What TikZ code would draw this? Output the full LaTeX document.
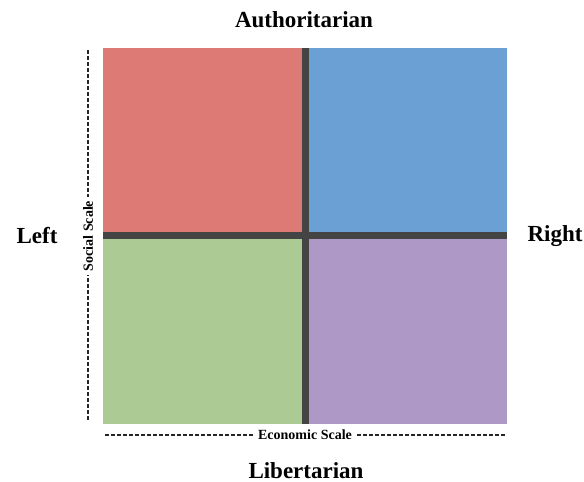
\documentclass[tikz,border=0pt]{standalone}
\usepackage{fontspec}
\setmainfont{Liberation Serif}
\usepackage{xcolor}
\definecolor{authleft}{RGB}{222,122,117}
\definecolor{authright}{RGB}{106,160,211}
\definecolor{libleft}{RGB}{171,202,148}
\definecolor{libright}{RGB}{174,152,197}
\definecolor{divider}{RGB}{68,68,68}
\tikzset{
	pole/.style={font=\bfseries\fontsize{23}{27}\selectfont, inner sep=0pt},
	scalename/.style={fill=white, font=\bfseries\fontsize{14}{16}\selectfont, inner xsep=4pt, inner ysep=2pt},
	scaleline/.style={line width=2.8pt, dash pattern=on 3.5pt off 2.5pt, black!85}
}
\begin{document}
\begin{tikzpicture}[x=1pt, y=1pt]
			\useasboundingbox (0,0) rectangle (584,482);
			% Quadrants
			\fill[authleft] (103,246) rectangle (305.5,434);
			\fill[authright] (305.5,246) rectangle (507,434);
			\fill[libleft] (103,58) rectangle (305.5,246);
			\fill[libright] (305.5,58) rectangle (507,246);
			% dividers
			\draw[divider, line width=7pt] (305.5,58) -- (305.5,434);
			\draw[divider, line width=7pt] (103,246) -- (507,246);
			% scales
			\draw[scaleline] (88,62) -- (88,432);
			\node[scalename, rotate=90] (social) at (88,246) {Social Scale};
			\draw[scaleline] (105,47) -- (505,47);
			\node[scalename] (economic) at (305,47) {Economic Scale};
			% poles
			\node[pole, anchor=base] (auth) at (304,454) {Authoritarian};
			\node[pole, anchor=base] (lib) at (306,3.5) {Libertarian};
			\node[pole, anchor=base] (left) at (37,238) {Left};
			\node[pole, anchor=base] (right) at (555,240) {Right};
		\end{tikzpicture}
\end{document}
